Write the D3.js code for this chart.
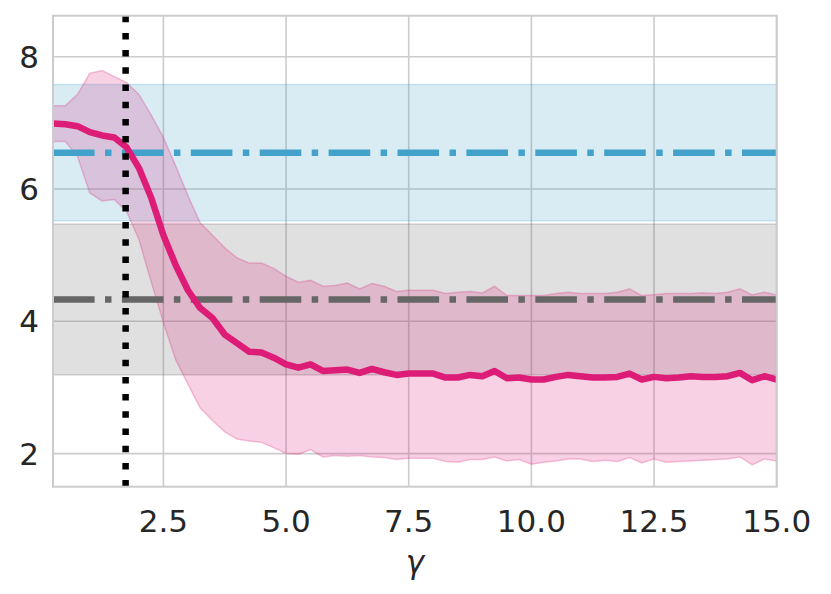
<!DOCTYPE html>
<html>
<head>
<meta charset="utf-8">
<script src="https://cdn.jsdelivr.net/npm/d3@7/dist/d3.min.js"></script>
<style>
  html, body { margin: 0; padding: 0; background: #fff; }
  svg { display: block; }
  text { font-family: "DejaVu Sans", sans-serif; fill: #262626; }
</style>
</head>
<body>
<script>
// ---- data ----
const gamma = [0.25,0.5,0.75,1.0,1.25,1.5,1.75,2.0,2.25,2.5,2.75,3.0,3.25,3.5,3.75,4.0,4.25,4.5,4.75,5.0,
  5.25,5.5,5.75,6.0,6.25,6.5,6.75,7.0,7.25,7.5,7.75,8.0,8.25,8.5,8.75,9.0,9.25,9.5,9.75,10.0,
  10.25,10.5,10.75,11.0,11.25,11.5,11.75,12.0,12.25,12.5,12.75,13.0,13.25,13.5,13.75,14.0,14.25,14.5,14.75,15.0];
const meanVals = [6.99,6.98,6.95,6.86,6.81,6.78,6.63,6.32,5.87,5.30,4.85,4.47,4.20,4.05,3.80,3.67,3.54,3.53,3.45,3.35,
  3.30,3.35,3.25,3.26,3.27,3.22,3.28,3.23,3.19,3.21,3.21,3.21,3.15,3.15,3.19,3.17,3.25,3.14,3.15,3.12,
  3.12,3.16,3.19,3.17,3.15,3.15,3.16,3.21,3.12,3.16,3.14,3.15,3.17,3.16,3.16,3.17,3.22,3.11,3.17,3.12];
const upperVals = [7.26,7.26,7.43,7.75,7.79,7.70,7.61,7.43,7.12,6.78,6.35,5.90,5.49,5.30,5.11,4.96,4.88,4.88,4.80,4.68,
  4.59,4.62,4.53,4.54,4.58,4.49,4.57,4.53,4.45,4.47,4.47,4.47,4.42,4.44,4.45,4.43,4.53,4.39,4.39,4.39,
  4.39,4.42,4.44,4.42,4.42,4.42,4.44,4.49,4.39,4.40,4.42,4.42,4.42,4.43,4.42,4.44,4.49,4.40,4.44,4.40];
const lowerVals = [6.72,6.72,6.49,5.94,5.82,5.84,5.66,5.24,4.60,3.98,3.42,3.05,2.69,2.50,2.33,2.22,2.19,2.17,2.09,2.00,
  1.99,2.06,1.95,1.97,1.96,1.97,1.95,1.94,1.91,1.93,1.93,1.93,1.88,1.87,1.91,1.91,1.95,1.89,1.91,1.84,
  1.87,1.89,1.92,1.92,1.88,1.90,1.88,1.94,1.86,1.92,1.87,1.88,1.89,1.90,1.91,1.92,1.95,1.83,1.92,1.89];
const blueRef = { mean: 6.55, lo: 5.52, hi: 7.58 };
const grayRef = { mean: 4.33, lo: 3.19, hi: 5.47 };
const gammaStar = 1.73;
const xTicks = [2.5, 5.0, 7.5, 10.0, 12.5, 15.0];
const yTicks = [2, 4, 6, 8];
const xLabel = "γ";

// ---- layout ----
const W = 831, H = 594;
const m = { left: 53, top: 15.7, right: 54.3, bottom: 107.3 };
const pw = W - m.left - m.right, ph = H - m.top - m.bottom;

const svg = d3.select("body").append("svg").attr("width", W).attr("height", H);
const x = d3.scaleLinear().domain([0.25, 15]).range([0, pw]);
const y = d3.scaleLinear().domain([1.5, 8.62]).range([ph, 0]);

svg.append("defs").append("clipPath").attr("id", "clip")
  .append("rect").attr("width", pw).attr("height", ph);

const g = svg.append("g").attr("transform", `translate(${m.left},${m.top})`);

// grid
g.append("g").selectAll("line").data(xTicks).join("line")
  .attr("x1", d => x(d)).attr("x2", d => x(d)).attr("y1", 0).attr("y2", ph)
  .attr("stroke", "#cccccc").attr("stroke-width", 1.6);
g.append("g").selectAll("line").data(yTicks).join("line")
  .attr("y1", d => y(d)).attr("y2", d => y(d)).attr("x1", 0).attr("x2", pw)
  .attr("stroke", "#cccccc").attr("stroke-width", 1.6);

const plot = g.append("g").attr("clip-path", "url(#clip)");

// reference bands
function band(ref, color) {
  plot.append("rect").attr("x", 0).attr("width", pw)
    .attr("y", y(ref.hi)).attr("height", y(ref.lo) - y(ref.hi))
    .attr("fill", color).attr("fill-opacity", 0.2)
    .attr("stroke", color).attr("stroke-opacity", 0.25).attr("stroke-width", 1.5);
}
band(blueRef, "#43a2ca");
band(grayRef, "#666666");

// pink band
const pts = gamma.map((gv, i) => ({ g: gv, m: meanVals[i], lo: lowerVals[i], hi: upperVals[i] }));
plot.append("path").datum(pts)
  .attr("d", d3.area().x(d => x(d.g)).y0(d => y(d.lo)).y1(d => y(d.hi)))
  .attr("fill", "#dd1c77").attr("fill-opacity", 0.2)
  .attr("stroke", "#dd1c77").attr("stroke-opacity", 0.25).attr("stroke-width", 1.5);

// reference lines
function refLine(v, color) {
  plot.append("line").attr("x1", 0).attr("x2", pw).attr("y1", y(v)).attr("y2", y(v))
    .attr("stroke", color).attr("stroke-width", 6.5)
    .attr("stroke-dasharray", "41.6,10.4,6.5,10.4");
}
refLine(blueRef.mean, "#43a2ca");
refLine(grayRef.mean, "#666666");

// mean line
plot.append("path").datum(pts)
  .attr("d", d3.line().x(d => x(d.g)).y(d => y(d.m)))
  .attr("fill", "none").attr("stroke", "#dd1c77").attr("stroke-width", 6.5)
  .attr("stroke-linejoin", "round");

// dotted vertical
plot.append("line").attr("x1", x(gammaStar)).attr("x2", x(gammaStar))
  .attr("y1", 0).attr("y2", ph)
  .attr("stroke", "#000").attr("stroke-width", 6.5).attr("stroke-dasharray", "6.5,10.7");

// spines
g.append("rect").attr("width", pw).attr("height", ph)
  .attr("fill", "none").attr("stroke", "#cccccc").attr("stroke-width", 2);

// tick labels
g.append("g").selectAll("text").data(xTicks).join("text")
  .attr("x", d => x(d)).attr("y", ph + 45).attr("text-anchor", "middle")
  .attr("font-size", 31).text(d => d.toFixed(1));
g.append("g").selectAll("text").data(yTicks).join("text")
  .attr("x", -14).attr("y", d => y(d) + 11).attr("text-anchor", "end")
  .attr("font-size", 31).text(d => d);

// axis label
g.append("text").attr("x", pw / 2).attr("y", ph + 86).attr("text-anchor", "middle")
  .attr("font-size", 31).attr("font-style", "italic").text(xLabel);
</script>
</body>
</html>
